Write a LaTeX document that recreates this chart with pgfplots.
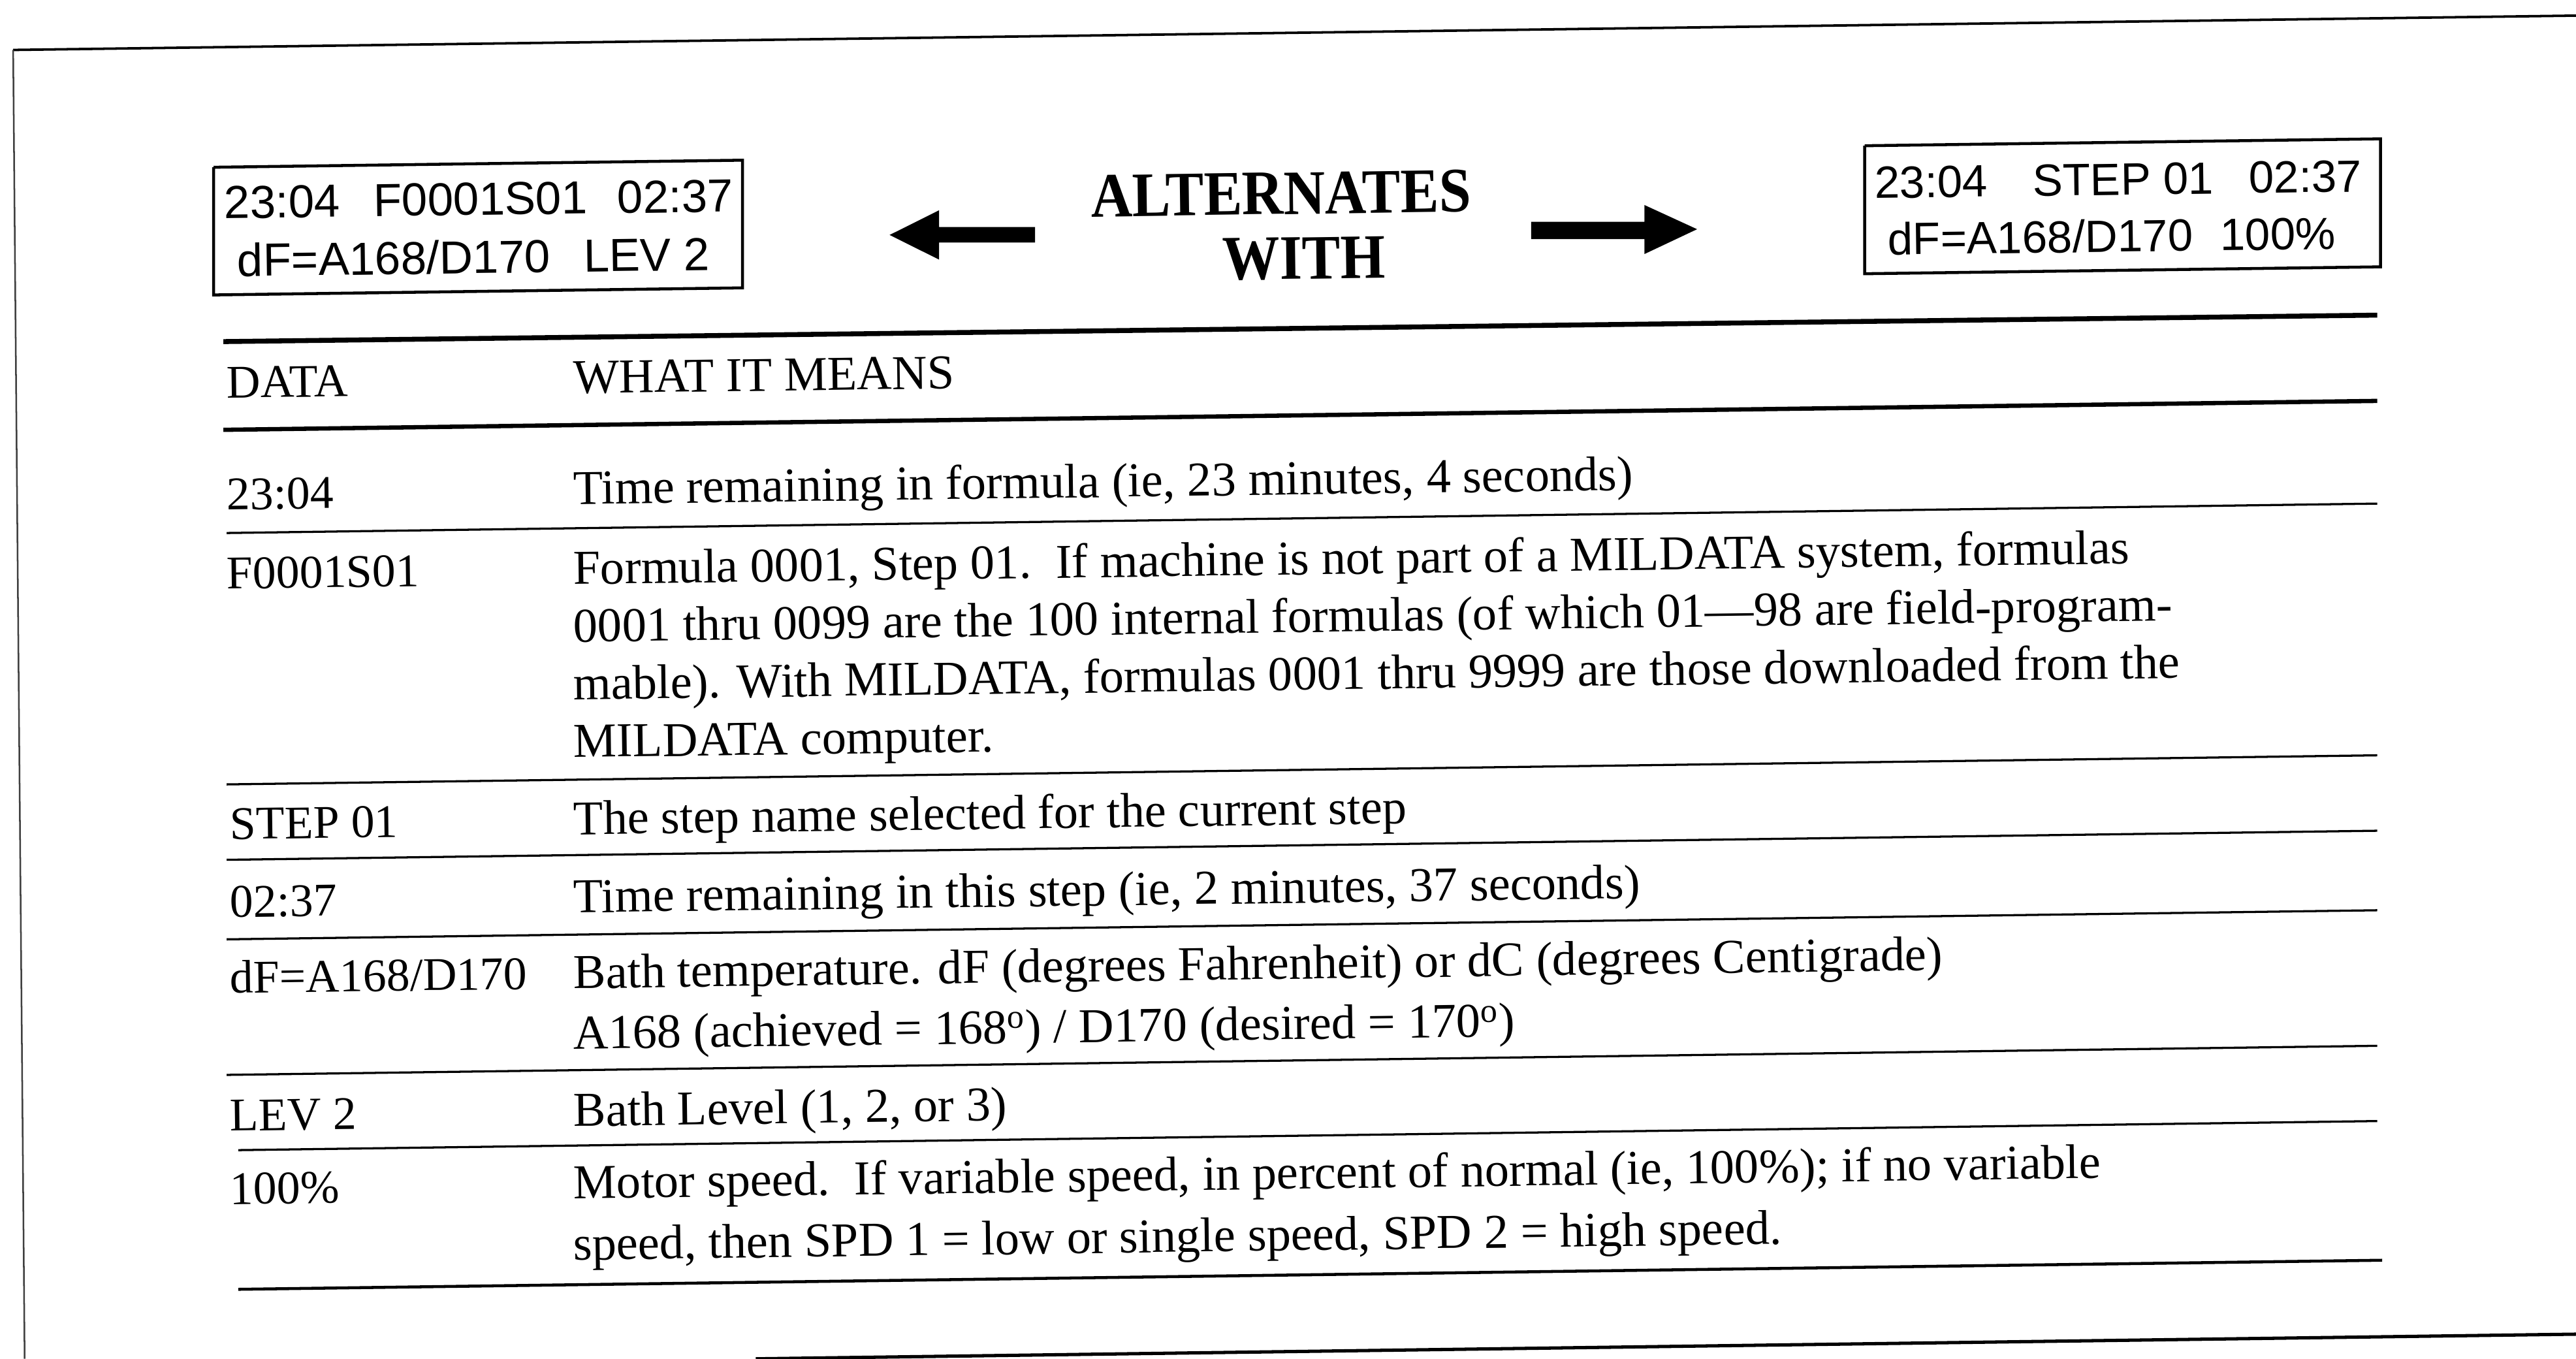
\documentclass[border=0pt]{standalone}
\usepackage{pgfplots}
\pgfplotsset{compat=1.18}
\usepackage{fontspec}
\setmainfont{Liberation Serif}
\newfontfamily\arial{Liberation Sans}
\tikzset{
  tx/.style={anchor=base west, inner sep=0pt, rotate=0.77, font=\fontsize{28.5}{34}\selectfont},
  txr/.style={anchor=base west, inner sep=0pt, rotate=0.77, font=\fontsize{29.6}{34}\selectfont},
  bx/.style={anchor=base west, inner sep=0pt, rotate=0.77, font=\arial\fontsize{27.5}{30}\selectfont},
  bxl/.style={anchor=base west, inner sep=0pt, rotate=0.77, font=\arial\fontsize{28.2}{30}\selectfont},
}
\begin{document}
\begin{tikzpicture}
\begin{axis}[scale only axis, width=1568pt, height=827pt,
  xmin=0, xmax=1568, ymin=0, ymax=827, y dir=reverse,
  hide axis, clip=false]
% outer frame
\addplot[black, line width=1.5pt] coordinates {(8,30.4) (1568,9.5)};
\addplot[black!75, line width=1pt] coordinates {(8,30.4) (15,827)};
\addplot[black, line width=2pt] coordinates {(460,827) (1568,812)};
% display boxes
\addplot[black, line width=1.8pt] coordinates {(130,101.8) (452,97.5) (452,175.2) (130,179.5) (130,101.8)};
\addplot[black, line width=1.8pt] coordinates {(1135,88.7) (1449,84.5) (1449,162.4) (1135,166.6) (1135,88.7)};
% arrows
\addplot[fill=black, draw=none] coordinates {(541.5,143) (571.6,128) (571.6,138.2) (630,138.2) (630,147.6) (571.6,147.6) (571.6,158)};
\addplot[fill=black, draw=none] coordinates {(1033,139.5) (1001,124.8) (1001,135) (932,135) (932,145.5) (1001,145.5) (1001,154.6)};
% table rules
\addplot[black, line width=3pt] coordinates {(136,207.9) (1447,191.8)};
\addplot[black, line width=2.6pt] coordinates {(136,261.6) (1447,244)};
\addplot[black, line width=1.3pt] coordinates {(138,324.4) (1447,306.5)};
\addplot[black, line width=1.3pt] coordinates {(138,477.4) (1447,459.7)};
\addplot[black, line width=1.3pt] coordinates {(138,523.3) (1447,505.6)};
\addplot[black, line width=1.3pt] coordinates {(138,571.7) (1447,554)};
\addplot[black, line width=1.3pt] coordinates {(138,654.2) (1447,636.5)};
\addplot[black, line width=1.3pt] coordinates {(145,700) (1447,682.3)};
\addplot[black, line width=1.8pt] coordinates {(145,784.7) (1450,767)};
% box texts
\node[bxl] at (axis cs:136.5,133) {23:04\hspace{0.72em}F0001S01\hspace{0.65em}02:37};
\node[bxl] at (axis cs:144.4,168.3) {dF=A168/D170\hspace{0.72em}LEV 2};
\node[bx] at (axis cs:1141,120.7) {23:04\hspace{1.0em}STEP 01\hspace{0.78em}02:37};
\node[bx] at (axis cs:1149,155.2) {dF=A168/D170\hspace{0.6em}100\%};
% centre caption
\node[anchor=base west, inner sep=0pt, rotate=0.77, font=\bfseries\fontsize{35}{40}\selectfont] at (axis cs:664,132) {\scalebox{1}[1.1]{ALTERNATES}};
\node[anchor=base west, inner sep=0pt, rotate=0.77, font=\bfseries\fontsize{35}{40}\selectfont] at (axis cs:744,170.5) {\scalebox{1}[1.1]{WITH}};
% header
\node[tx] at (axis cs:138,242.3) {DATA};
\node[txr] at (axis cs:349,239.5) {WHAT IT MEANS};
% rows
\node[tx] at (axis cs:138,310.3) {23:04};
\node[txr] at (axis cs:349,307) {Time remaining in formula (ie, 23 minutes, 4 seconds)};
\node[tx] at (axis cs:138,358.5) {F0001S01};
\node[txr] at (axis cs:349,355.7) {Formula 0001, Step 01.\ \ If machine is not part of a MILDATA system, formulas};
\node[txr] at (axis cs:349,390.8) {0001 thru 0099 are the 100 internal formulas (of which 01\textemdash98 are field-program-};
\node[txr] at (axis cs:349,425.9) {mable). With MILDATA, formulas 0001 thru 9999 are those downloaded from the};
\node[txr] at (axis cs:349,461.0) {MILDATA computer.};
\node[tx] at (axis cs:140,510.8) {STEP 01};
\node[txr] at (axis cs:349,508) {The step name selected for the current step};
\node[tx] at (axis cs:140,558.3) {02:37};
\node[txr] at (axis cs:349,555.5) {Time remaining in this step (ie, 2 minutes, 37 seconds)};
\node[tx] at (axis cs:140,604.5) {dF=A168/D170};
\node[txr] at (axis cs:349,601.7) {Bath temperature. dF (degrees Fahrenheit) or dC (degrees Centigrade)};
\node[txr] at (axis cs:349,638.5) {A168 (achieved = 168\textsuperscript{o}) / D170 (desired = 170\textsuperscript{o})};
\node[tx] at (axis cs:140,688.4) {LEV 2};
\node[txr] at (axis cs:349,685.6) {Bath Level (1, 2, or 3)};
\node[tx] at (axis cs:140,733) {100\%};
\node[txr] at (axis cs:349,729.5) {Motor speed.\ \ If variable speed, in percent of normal (ie, 100\%); if no variable};
\node[txr] at (axis cs:349,767) {speed, then SPD 1 = low or single speed, SPD 2 = high speed.};
\end{axis}
\pgfresetboundingbox
\path[use as bounding box] (current axis.south west) rectangle (current axis.north east);
\end{tikzpicture}
\end{document}
